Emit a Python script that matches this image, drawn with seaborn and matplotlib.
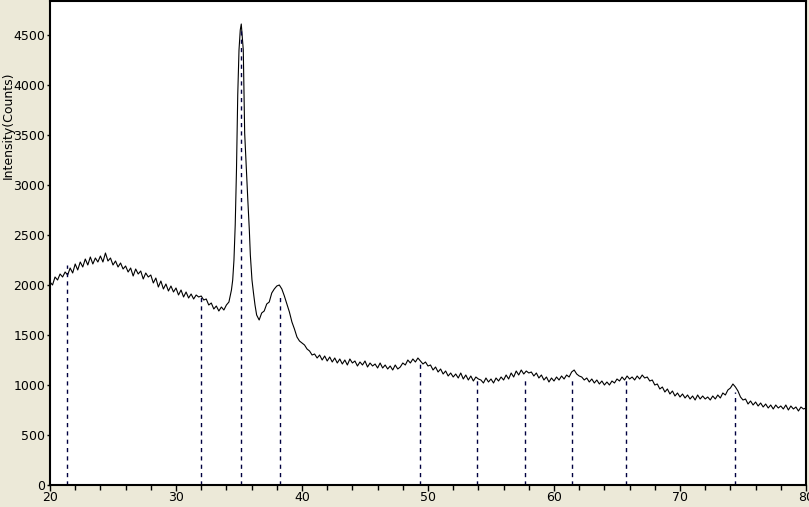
import numpy as np
import pandas as pd
import matplotlib
matplotlib.use("Agg")
import matplotlib.pyplot as plt
import seaborn as sns

# XRD scan (2-theta in degrees, counts)
scan_step = 0.2

# 20.0 .. 33.8
counts_low = [
    2030, 2000, 2080, 2050, 2110, 2080, 2130, 2100, 2170, 2120,
    2210, 2150, 2230, 2180, 2260, 2200, 2280, 2210, 2270, 2230,
    2290, 2230, 2320, 2240, 2270, 2200, 2240, 2180, 2220, 2160,
    2190, 2130, 2170, 2090, 2160, 2110, 2140, 2060, 2120, 2080,
    2100, 2020, 2070, 1980, 2040, 1960, 2010, 1940, 1990, 1930,
    1970, 1900, 1950, 1880, 1930, 1870, 1910, 1860, 1900, 1880,
    1890, 1850, 1860, 1800, 1820, 1760, 1790, 1740, 1780, 1750,
]

# main reflection, denser reading
theta_peak = [34.0, 34.2, 34.4, 34.5, 34.6, 34.7, 34.8, 34.9, 35.0, 35.1, 35.18,
              35.25, 35.34, 35.4, 35.45, 35.56, 35.7, 35.82, 35.9, 36.03, 36.15, 36.27]
counts_peak = [1800, 1830, 1950, 2050, 2250, 2600, 3150, 3900, 4350, 4550, 4610,
               4500, 4350, 3920, 3520, 3220, 2850, 2550, 2300, 2050, 1920, 1800]

# 36.4 .. 80.0
counts_high = [
    1700, 1650, 1720, 1740, 1810, 1830, 1920, 1960,
    1990, 2000, 1960, 1890, 1810, 1730, 1630, 1560, 1480, 1440,
    1420, 1400, 1360, 1340, 1300, 1310, 1270, 1300, 1250, 1290,
    1240, 1280, 1230, 1270, 1220, 1260, 1210, 1250, 1200, 1260,
    1220, 1240, 1190, 1230, 1200, 1240, 1180, 1220, 1190, 1210,
    1170, 1220, 1170, 1200, 1160, 1190, 1150, 1200, 1160, 1180,
    1220, 1200, 1250, 1220, 1260, 1230, 1270, 1240, 1210, 1230,
    1190, 1200, 1150, 1180, 1130, 1160, 1110, 1140, 1090, 1120,
    1080, 1110, 1070, 1120, 1060, 1100, 1050, 1090, 1040, 1080,
    1060, 1050, 1020, 1070, 1030, 1060, 1020, 1070, 1040, 1080,
    1050, 1100, 1060, 1120, 1080, 1140, 1100, 1150, 1110, 1140,
    1120, 1130, 1090, 1120, 1070, 1100, 1050, 1080, 1030, 1070,
    1040, 1080, 1050, 1090, 1060, 1100, 1080, 1130, 1150, 1110,
    1090, 1080, 1050, 1070, 1030, 1060, 1020, 1050, 1010, 1040,
    1000, 1030, 1000, 1040, 1020, 1060, 1040, 1080, 1050, 1090,
    1060, 1080, 1050, 1090, 1060, 1100, 1070, 1080, 1040, 1050,
    1000, 1010, 960, 980, 930, 960, 910, 940, 890, 920,
    880, 910, 870, 900, 860, 890, 850, 900, 860, 890,
    860, 880, 850, 890, 860, 900, 870, 920, 900, 950,
    970, 1010, 980, 940, 880, 850, 860, 810, 840, 800,
    830, 790, 820, 780, 810, 770, 800, 760, 800, 770,
    790, 760, 800, 750, 790, 760, 780, 740, 780, 760,
    770,
]

# reference peak positions (dashed markers) and their heights
peak_pos = [21.35, 31.98, 35.16, 38.25, 49.37, 53.9, 57.7, 61.4, 65.7, 74.4]
peak_height = [2200, 1880, 4550, 1880, 1210, 1060, 1060, 1070, 1060, 930]

theta_low = np.round(20.0 + scan_step * np.arange(len(counts_low)), 2)
theta_high = np.round(36.4 + scan_step * np.arange(len(counts_high)), 2)

df = pd.DataFrame({
    "two_theta": np.concatenate([theta_low, theta_peak, theta_high]),
    "counts": np.concatenate([counts_low, counts_peak, counts_high]),
})

sns.set_style("ticks")
plt.rcParams["font.family"] = ["Liberation Sans Narrow", "DejaVu Sans"]

bg = "#ECE9D8"
fig = plt.figure(figsize=(8.09, 5.07), dpi=100, facecolor=bg)
ax = fig.add_axes([50 / 809, 22 / 507, 756 / 809, 484 / 507])
ax.set_facecolor("white")

sns.lineplot(data=df, x="two_theta", y="counts", ax=ax, color="black",
             lw=0.8, estimator=None, sort=False)

ax.vlines(peak_pos, 0, peak_height, colors="#000040", linestyles=(0, (3, 3)), lw=1.0)

ax.set_xlim(20, 80)
ax.set_ylim(0, 4840)
ax.set_xticks(np.arange(20, 81, 10))
ax.set_xticks(np.arange(20, 81, 2), minor=True)
ax.set_yticks(np.arange(0, 4501, 500))
ax.tick_params(axis="x", which="major", length=4, width=1, labelsize=9, pad=0.5,
               color="black", labelcolor="black")
ax.tick_params(axis="x", which="minor", length=3.5, width=1, color="black")
ax.tick_params(axis="y", length=2.5, width=1, labelsize=9, pad=1,
               color="black", labelcolor="black")

for s in ax.spines.values():
    s.set_linewidth(1.5)
    s.set_color("black")

ax.set_xlabel("")
ax.set_ylabel("Intensity(Counts)", fontsize=9, family="DejaVu Sans", color="black")
ax.yaxis.set_label_coords(-0.047, 0.744)

fig.savefig("out.png", dpi=100, facecolor=bg)
